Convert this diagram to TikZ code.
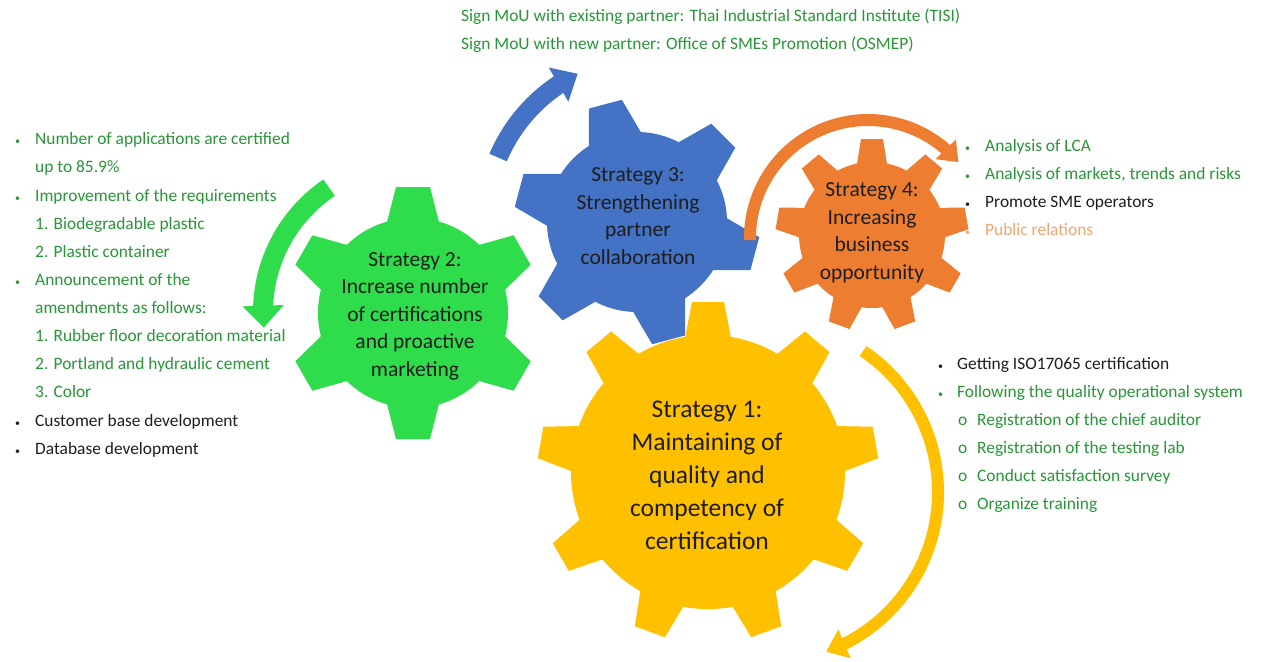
\documentclass[tikz,border=0pt]{standalone}
\usepackage{fontspec}
\setmainfont{Carlito}
\usetikzlibrary{arrows.meta,bending}
\definecolor{gyellow}{RGB}{255,192,0}
\definecolor{ggreen}{RGB}{46,220,76}
\definecolor{gblue}{RGB}{68,114,196}
\definecolor{gorange}{RGB}{237,125,49}
\definecolor{tgreen}{RGB}{40,150,55}
\definecolor{torange}{RGB}{244,164,110}
\definecolor{tdark}{RGB}{30,30,30}
\newcommand{\drawgear}[9]{%
  \begin{scope}[shift={(#1,#2)}]
    \fill[#9] (0,0) circle[radius=#3];
    \pgfmathsetmacro{\gstep}{360/#5}
    \foreach \k in {1,...,#5}{
      \pgfmathsetmacro{\gang}{#6+(\k-1)*\gstep}
      \fill[#9,rotate=\gang] (#3-8,-#7) -- (#4,-#8) -- (#4,#8) -- (#3-8,#7) -- cycle;
    }
  \end{scope}}
\tikzset{
  lt/.style={anchor=base west, inner sep=0pt, font=\fontsize{17.4}{20}\selectfont},
  bul/.style={anchor=base west, inner sep=0pt, font=\fontsize{10}{10}\selectfont},
  glabel/.style={align=center, inner sep=0pt, text=tdark, font=\fontsize{21.5}{27.5}\selectfont},
  ylabel/.style={align=center, inner sep=0pt, text=tdark, font=\fontsize{25.5}{33}\selectfont},
}
\begin{document}
\begin{tikzpicture}[x=1pt,y=1pt]
\fill[white] (0,0) rectangle (1265,-661);
\useasboundingbox (0,0) rectangle (1265,-661);

% gears
\drawgear{708}{-472}{137}{170}{9}{90}{24}{16}{gyellow}
\drawgear{413}{-313}{95}{126}{6}{90}{27}{17}{ggreen}
\drawgear{637}{-222}{90}{122}{6}{105}{28}{17}{gblue}
\drawgear{872}{-235}{73}{96}{9}{90}{16}{11}{gorange}

\node[ylabel] (s1) at (707,-475) {Strategy 1:\\Maintaining of\\quality and\\competency of\\certification};
\node[glabel] (s2) at (415,-316) {Strategy 2:\\Increase number\\of certifications\\and proactive\\marketing};
\node[glabel] (s3) at (638,-216) {Strategy 3:\\Strengthening\\partner\\collaboration};
\node[glabel] (s4) at (872,-233) {Strategy 4:\\Increasing\\business\\opportunity};

% circular arrows
\coordinate (bc) at (650,-222);
\draw[gblue, line width=19, -{Triangle[length=22pt,width=38pt]}] ([shift={(157:165)}]bc) arc[start angle=157, end angle=116, radius=165];
\coordinate (gc) at (413,-312);
\draw[ggreen, line width=20, -{Triangle[length=22pt,width=40pt]}] ([shift={(124:150)}]gc) arc[start angle=124, end angle=186, radius=150];
\coordinate (oc) at (868,-238);
\draw[gorange, line width=12, -{Triangle[length=18pt,width=27pt]}] ([shift={(181:118)}]oc) arc[start angle=181, end angle=40, radius=118];
\coordinate (yc) at (768,-492);
\draw[gyellow, line width=12, -{Triangle[length=20pt,width=30pt]}] ([shift={(56:170)}]yc) arc[start angle=56, end angle=-70, radius=170];

% top text
\node[lt, text=tgreen] (t1) at (461,-22) {Sign MoU with existing partner: Thai Industrial Standard Institute (TISI)};
\node[lt, text=tgreen] (t2) at (461,-50) {Sign MoU with new partner: Office of SMEs Promotion (OSMEP)};

% left list
\foreach \yy/\cc in {144/tgreen,201/tgreen,285/tgreen,426/tdark,454/tdark}
  \node[bul, text=\cc] at (15,-\yy) {•};
\node[lt, text=tgreen] (l1) at (35,-144) {Number of applications are certified};
\node[lt, text=tgreen] (l2) at (35,-172) {up to 85.9\%};
\node[lt, text=tgreen] (l3) at (35,-201) {Improvement of the requirements};
\node[lt, text=tgreen] (l4) at (35,-229) {1. Biodegradable plastic};
\node[lt, text=tgreen] (l5) at (35,-257) {2. Plastic container};
\node[lt, text=tgreen] (l6) at (35,-285) {Announcement of the};
\node[lt, text=tgreen] (l7) at (35,-313) {amendments as follows:};
\node[lt, text=tgreen] (l8) at (35,-341) {1. Rubber floor decoration material};
\node[lt, text=tgreen] (l9) at (35,-369) {2. Portland and hydraulic cement};
\node[lt, text=tgreen] (l10) at (35,-397) {3. Color};
\node[lt, text=tdark] (l11) at (35,-426) {Customer base development};
\node[lt, text=tdark] (l12) at (35,-454) {Database development};

% right list (strategy 4)
\foreach \yy/\cc in {151/tgreen,179/tgreen,207/tdark,235/torange}
  \node[bul, text=\cc] at (965,-\yy) {•};
\node[lt, text=tgreen] (r1) at (985,-151) {Analysis of LCA};
\node[lt, text=tgreen] (r2) at (985,-179) {Analysis of markets, trends and risks};
\node[lt, text=tdark] (r3) at (985,-207) {Promote SME operators};
\node[lt, text=torange] (r4) at (985,-235) {Public relations};

% right list (strategy 1)
\node[bul, text=tdark] at (938,-369) {•};
\node[bul, text=tgreen] at (938,-397) {•};
\node[lt, text=tdark] (q1) at (957,-369) {Getting ISO17065 certification};
\node[lt, text=tgreen] (q2) at (957,-397) {Following the quality operational system};
\foreach \yy/\tt [count=\i] in {425/Registration of the chief auditor,453/Registration of the testing lab,481/Conduct satisfaction survey,509/Organize training}{
  \node[lt, text=tgreen] at (958,-\yy) {o};
  \node[lt, text=tgreen] (q\i o) at (977,-\yy) {\tt};
}
\end{tikzpicture}
\end{document}
